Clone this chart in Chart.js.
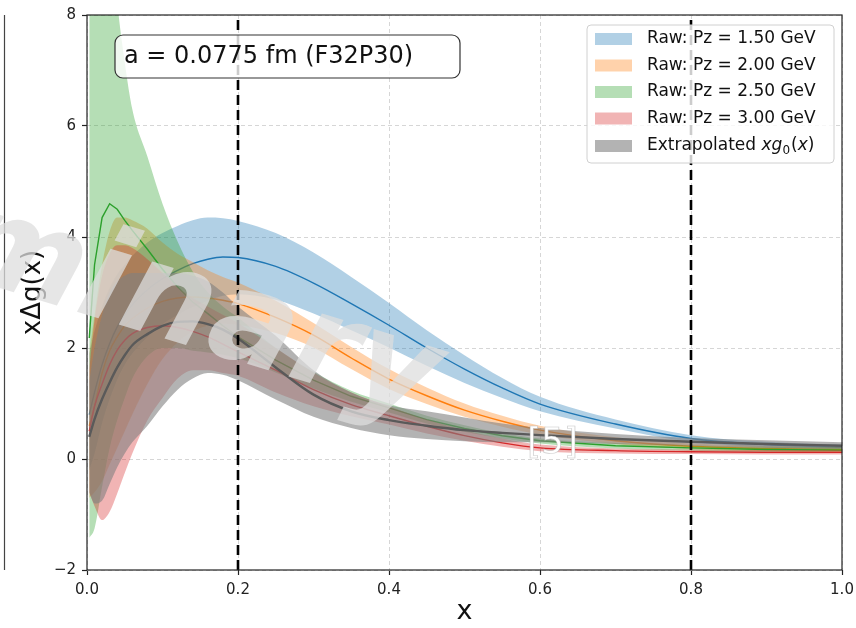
<!DOCTYPE html>
<html>
<head>
<meta charset="utf-8">
<script src="https://cdn.jsdelivr.net/npm/chart.js@4.4.0/dist/chart.umd.min.js"></script>
<style>
  html, body { margin: 0; padding: 0; background: #fff; }
  #wrap { position: relative; width: 856px; height: 628px; }
</style>
</head>
<body>
<div id="wrap"><canvas id="pdfChart" width="856" height="628"></canvas></div>
<script>
const FONT = 'DejaVu Sans';

// x grid shared by every curve
const xs = [0.003, 0.01, 0.02, 0.03, 0.04, 0.05, 0.06, 0.08, 0.10, 0.12, 0.14, 0.16, 0.18, 0.20,
            0.25, 0.30, 0.35, 0.40, 0.45, 0.50, 0.55, 0.60, 0.70, 0.80, 0.90, 1.00];

// Raw: Pz = 1.50 GeV
const blueMid = [0.8, 1.2, 1.7, 2.08, 2.38, 2.6, 2.78, 3.05, 3.25, 3.4, 3.52, 3.6, 3.64, 3.63, 3.47, 3.17, 2.8, 2.41, 2.0, 1.62, 1.28, 0.99, 0.63, 0.37, 0.26, 0.21];
const blueHi  = [1.9, 2.3, 2.75, 3.08, 3.33, 3.5, 3.66, 3.9, 4.07, 4.2, 4.3, 4.35, 4.34, 4.29, 4.07, 3.72, 3.28, 2.81, 2.32, 1.87, 1.46, 1.12, 0.71, 0.43, 0.31, 0.26];
const blueLo  = [-0.2, 0.1, 0.65, 1.08, 1.43, 1.7, 1.9, 2.2, 2.43, 2.6, 2.74, 2.85, 2.94, 2.97, 2.87, 2.62, 2.32, 2.01, 1.68, 1.37, 1.1, 0.86, 0.55, 0.31, 0.21, 0.16];

// Raw: Pz = 2.00 GeV
const orangeMid = [0.6, 0.95, 1.55, 1.95, 2.2, 2.4, 2.53, 2.72, 2.84, 2.9, 2.92, 2.9, 2.86, 2.8, 2.55, 2.23, 1.82, 1.44, 1.14, 0.88, 0.68, 0.52, 0.33, 0.23, 0.19, 0.17];
const orangeHi  = [1.9, 2.6, 3.5, 4.1, 4.35, 4.35, 4.3, 4.15, 3.9, 3.7, 3.55, 3.4, 3.28, 3.18, 2.85, 2.45, 2.02, 1.62, 1.29, 1.0, 0.78, 0.6, 0.39, 0.28, 0.24, 0.22];
const orangeLo  = [-0.7, -0.6, -0.4, -0.1, 0.2, 0.5, 0.8, 1.35, 1.8, 2.1, 2.3, 2.4, 2.44, 2.42, 2.27, 2.01, 1.62, 1.26, 0.99, 0.76, 0.58, 0.44, 0.27, 0.18, 0.14, 0.12];

// Raw: Pz = 2.50 GeV
const greenMid = [2.18, 3.5, 4.35, 4.6, 4.5, 4.3, 4.12, 3.78, 3.42, 3.1, 2.83, 2.62, 2.4, 2.2, 1.78, 1.42, 1.13, 0.92, 0.71, 0.55, 0.42, 0.33, 0.24, 0.2, 0.17, 0.16];
const greenHi  = [12, 12, 11, 10, 8.25, 7.15, 6.3, 5.45, 4.6, 3.92, 3.38, 3.0, 2.75, 2.55, 2.0, 1.57, 1.23, 1.0, 0.78, 0.61, 0.47, 0.37, 0.29, 0.25, 0.22, 0.21];
const greenLo  = [-1.42, -1.25, -0.5, 0.2, 0.7, 1.1, 1.45, 1.85, 2.0, 2.0, 1.95, 1.92, 1.88, 1.82, 1.56, 1.27, 1.03, 0.84, 0.64, 0.49, 0.37, 0.28, 0.19, 0.15, 0.12, 0.11];

// Raw: Pz = 3.00 GeV
const redMid = [0.5, 0.95, 1.35, 1.7, 1.96, 2.14, 2.26, 2.37, 2.4, 2.37, 2.3, 2.2, 2.07, 1.93, 1.6, 1.25, 0.98, 0.78, 0.59, 0.42, 0.29, 0.2, 0.15, 0.13, 0.12, 0.12];
const redHi  = [1.6, 2.5, 3.3, 3.7, 3.85, 3.85, 3.8, 3.6, 3.35, 3.1, 2.9, 2.75, 2.6, 2.45, 2.0, 1.56, 1.2, 0.95, 0.71, 0.52, 0.37, 0.26, 0.19, 0.17, 0.16, 0.16];
const redLo  = [-0.6, -0.85, -1.1, -0.95, -0.62, -0.25, 0.1, 0.7, 1.1, 1.45, 1.6, 1.6, 1.55, 1.5, 1.2, 0.95, 0.77, 0.62, 0.46, 0.33, 0.22, 0.14, 0.1, 0.09, 0.08, 0.08];

// Extrapolated xg0(x)
const grayMid = [0.4, 0.72, 1.08, 1.38, 1.65, 1.87, 2.05, 2.25, 2.4, 2.47, 2.48, 2.43, 2.33, 2.17, 1.65, 1.16, 0.86, 0.7, 0.6, 0.52, 0.47, 0.43, 0.36, 0.31, 0.27, 0.24];
const grayHi  = [1.4, 2.0, 2.6, 3.0, 3.2, 3.3, 3.35, 3.35, 3.35, 3.35, 3.3, 3.2, 3.0, 2.75, 2.22, 1.6, 1.2, 0.97, 0.86, 0.75, 0.64, 0.56, 0.45, 0.38, 0.34, 0.3];
const grayLo  = [-0.6, -0.8, -0.75, -0.45, -0.15, 0.1, 0.3, 0.6, 0.95, 1.25, 1.45, 1.55, 1.52, 1.42, 1.07, 0.76, 0.56, 0.43, 0.36, 0.32, 0.3, 0.3, 0.27, 0.24, 0.2, 0.18];

const seriesLabels = ['Raw: Pz = 1.50 GeV', 'Raw: Pz = 2.00 GeV', 'Raw: Pz = 2.50 GeV', 'Raw: Pz = 3.00 GeV', 'Extrapolated '];
const bandColors = ['rgba(31,119,180,0.35)', 'rgba(255,127,14,0.35)', 'rgba(44,160,44,0.35)', 'rgba(214,39,40,0.35)', 'rgba(128,128,128,0.6)'];
const lineColors = ['#1f77b4', '#ff7f0e', '#2ca02c', '#d62728', '#5a5a5a'];

const cutLines = [0.2, 0.8];
const xTicks = [0, 0.2, 0.4, 0.6, 0.8, 1.0];
const xTickLabels = ['0.0', '0.2', '0.4', '0.6', '0.8', '1.0'];
const yTicks = [-2, 0, 2, 4, 6, 8];
const yTickLabels = ['\u22122', '0', '2', '4', '6', '8'];
const boxText = 'a = 0.0775 fm (F32P30)';

const pts = arr => arr.map((y, i) => ({ x: xs[i], y: y }));

const datasets = [];
function addBand(lo, hi, color) {
    const loIdx = datasets.length;
    datasets.push({ data: pts(lo), borderWidth: 0, borderColor: 'rgba(0,0,0,0)', fill: false, cubicInterpolationMode: 'monotone' });
    datasets.push({ data: pts(hi), borderWidth: 0, borderColor: 'rgba(0,0,0,0)', fill: { target: loIdx }, backgroundColor: color, cubicInterpolationMode: 'monotone' });
}
function addLine(mid, color, width, smooth) {
    const ds = { data: pts(mid), borderColor: color, borderWidth: width, fill: false };
    if (smooth) ds.cubicInterpolationMode = 'monotone';
    else ds.tension = 0;
    datasets.push(ds);
}

addBand(blueLo, blueHi, bandColors[0]);     addLine(blueMid, lineColors[0], 1.4, true);
addBand(orangeLo, orangeHi, bandColors[1]); addLine(orangeMid, lineColors[1], 1.4, true);
addBand(greenLo, greenHi, bandColors[2]);   addLine(greenMid, lineColors[2], 1.4, false);
addBand(redLo, redHi, bandColors[3]);       addLine(redMid, lineColors[3], 1.4, true);
addBand(grayLo, grayHi, bandColors[4]);     addLine(grayMid, lineColors[4], 2.4, true);

cutLines.forEach(xc => {
    datasets.push({ data: [{ x: xc, y: -2 }, { x: xc, y: 8 }], borderColor: '#000', borderWidth: 2.6, borderDash: [10, 5], fill: false });
});

// first pushed = drawn first (bottom)
datasets.forEach((d, i) => { d.order = datasets.length - i; d.pointRadius = 0; });

function roundRect(ctx, x, y, w, h, r) {
    ctx.beginPath();
    ctx.moveTo(x + r, y);
    ctx.arcTo(x + w, y, x + w, y + h, r);
    ctx.arcTo(x + w, y + h, x, y + h, r);
    ctx.arcTo(x, y + h, x, y, r);
    ctx.arcTo(x, y, x + w, y, r);
    ctx.closePath();
}

const decorations = {
    id: 'decorations',
    afterDatasetsDraw(chart) {
        const ctx = chart.ctx;
        const a = chart.chartArea;
        ctx.save();

        // frame of the axes
        ctx.strokeStyle = '#222';
        ctx.lineWidth = 1.2;
        ctx.strokeRect(a.left, a.top, a.right - a.left, a.bottom - a.top);

        // edge of neighbouring panel
        ctx.strokeStyle = '#444';
        ctx.beginPath();
        ctx.moveTo(4.5, a.top);
        ctx.lineTo(4.5, a.bottom);
        ctx.stroke();

        // lattice spacing box
        roundRect(ctx, a.left + 28, a.top + 20, 345, 43, 8);
        ctx.fillStyle = 'rgba(255,255,255,0.8)';
        ctx.fill();
        ctx.strokeStyle = '#333';
        ctx.lineWidth = 1.2;
        ctx.stroke();
        ctx.fillStyle = '#111';
        ctx.font = '24px "' + FONT + '"';
        ctx.textBaseline = 'middle';
        ctx.textAlign = 'left';
        ctx.fillText(boxText, a.left + 37, a.top + 42);

        // legend
        const lx = a.right - 255, ly = a.top + 10, lw = 247, lh = 138;
        roundRect(ctx, lx, ly, lw, lh, 4);
        ctx.fillStyle = 'rgba(255,255,255,0.8)';
        ctx.fill();
        ctx.strokeStyle = '#d0d0d0';
        ctx.lineWidth = 1;
        ctx.stroke();
        seriesLabels.forEach((lab, i) => {
            const cy = ly + 14 + i * 26.5 + (i === 4 ? 1 : 0);
            ctx.fillStyle = '#fff';
            ctx.fillRect(lx + 8, cy - 6, 37, 12);
            ctx.fillStyle = bandColors[i];
            ctx.fillRect(lx + 8, cy - 6, 37, 12);
            ctx.fillStyle = '#111';
            ctx.font = '17px "' + FONT + '"';
            let tx = lx + 60;
            ctx.fillText(lab, tx, cy);
            if (i === 4) {
                tx += ctx.measureText(lab).width;
                ctx.font = 'italic 17px "' + FONT + '"';
                ctx.fillText('xg', tx, cy);
                tx += ctx.measureText('xg').width;
                ctx.font = '12px "' + FONT + '"';
                ctx.fillText('0', tx, cy + 5);
                tx += ctx.measureText('0').width + 1;
                ctx.font = '17px "' + FONT + '"';
                ctx.fillText('(', tx, cy);
                tx += ctx.measureText('(').width;
                ctx.font = 'italic 17px "' + FONT + '"';
                ctx.fillText('x', tx, cy);
                tx += ctx.measureText('x').width;
                ctx.font = '17px "' + FONT + '"';
                ctx.fillText(')', tx, cy);
            }
        });

        // watermark
        ctx.save();
        ctx.translate(425, 418);
        ctx.rotate(17 * Math.PI / 180);
        ctx.font = 'italic bold 128px "' + FONT + '"';
        ctx.textAlign = 'right';
        ctx.textBaseline = 'alphabetic';
        ctx.fillStyle = 'rgba(222,222,222,0.75)';
        ctx.fillText('Preliminary', 0, 0);
        ctx.restore();

        // reference tag
        ctx.font = '36px "' + FONT + '"';
        ctx.textAlign = 'left';
        ctx.textBaseline = 'alphabetic';
        ctx.fillStyle = '#fff';
        ctx.fillText('[5]', 527, 453);
        ctx.strokeStyle = 'rgba(170,170,170,0.6)';
        ctx.lineWidth = 0.7;
        ctx.strokeText('[5]', 527, 453);

        ctx.restore();
    }
};

const tickFont = { family: FONT, size: 15 };

new Chart(document.getElementById('pdfChart'), {
    type: 'line',
    data: { datasets: datasets },
    options: {
        responsive: false,
        animation: false,
        layout: { padding: { top: 15, right: 14, left: 0, bottom: 0 } },
        plugins: { legend: { display: false }, tooltip: { enabled: false } },
        scales: {
            x: {
                type: 'linear',
                min: 0,
                max: 1,
                afterFit: s => { s.height = 58; s.paddingRight = 0; s.paddingLeft = 0; },
                afterBuildTicks: s => { s.ticks = xTicks.map(v => ({ value: v })); },
                ticks: { callback: (v, i) => xTickLabels[i], font: tickFont, color: '#222', padding: 6, maxRotation: 0 },
                grid: { color: '#d6d6d6', lineWidth: 1, tickColor: '#222', tickLength: 5, tickWidth: 1.2 },
                border: { display: false, dash: [4, 3] },
                title: { display: true, text: 'x', font: { family: FONT, size: 27 }, color: '#111', padding: { top: 0, bottom: 0 } }
            },
            y: {
                type: 'linear',
                min: -2,
                max: 8,
                afterFit: s => { s.width = 87; s.paddingTop = 0; s.paddingBottom = 0; },
                afterBuildTicks: s => { s.ticks = yTicks.map(v => ({ value: v })); },
                ticks: { callback: (v, i) => yTickLabels[i], font: tickFont, color: '#222', padding: 6 },
                grid: { color: '#d6d6d6', lineWidth: 1, tickColor: '#222', tickLength: 5, tickWidth: 1.2 },
                border: { display: false, dash: [4, 3] },
                title: { display: true, text: 'x\u0394g(x)', font: { family: FONT, size: 26 }, color: '#111', padding: { top: 18, bottom: 0 } }
            }
        }
    },
    plugins: [decorations]
});
</script>
</body>
</html>
